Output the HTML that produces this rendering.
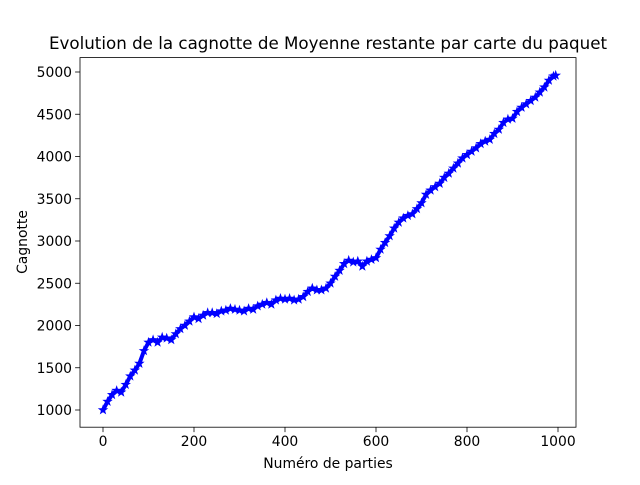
<!DOCTYPE html>
<html><head><meta charset="utf-8"><style>
body{margin:0;background:#fff;}
svg text{font-family:"DejaVu Sans","Liberation Sans",sans-serif;fill:#000;}
</style></head><body>
<svg id="chart" width="640" height="480" xmlns="http://www.w3.org/2000/svg">
<rect width="640" height="480" fill="#fff"/>
<text x="328" y="49" font-size="16.7" text-anchor="middle">Evolution de la cagnotte de Moyenne restante par carte du paquet</text>
<text x="328" y="468" font-size="13.9" text-anchor="middle">Numéro de parties</text>
<text x="27" y="242" font-size="13.9" text-anchor="middle" transform="rotate(-90 27 242)">Cagnotte</text>
<g id="series"></g>
<g id="axes"></g>
</svg>
<script>
const games=[0,10,20,30,40,50,60,70,80,90,100,110,120,130,140,150,160,170,180,190,200,210,220,230,240,250,260,270,280,290,300,310,320,330,340,350,360,370,380,390,400,410,420,430,440,450,460,470,480,490,500,510,520,530,540,550,560,570,580,590,600,610,620,630,640,650,660,670,680,690,700,710,720,730,740,750,760,770,780,790,800,810,820,830,840,850,860,870,880,890,900,910,920,930,940,950,960,970,980,990,995];
const cagnotte=[1000,1100,1180,1230,1210,1300,1400,1470,1550,1700,1800,1830,1800,1860,1850,1830,1900,1960,2000,2050,2100,2080,2120,2150,2150,2140,2170,2180,2200,2190,2180,2170,2200,2190,2230,2250,2270,2250,2300,2320,2310,2320,2300,2310,2340,2400,2440,2420,2420,2440,2500,2580,2650,2730,2770,2750,2760,2700,2760,2780,2800,2900,2980,3060,3150,3220,3270,3300,3320,3380,3450,3550,3600,3640,3680,3750,3800,3860,3920,3980,4020,4060,4100,4150,4180,4200,4270,4320,4400,4440,4450,4530,4580,4620,4660,4700,4760,4820,4900,4950,4960];
const xTicks=[0,200,400,600,800,1000];
const yTicks=[1000,1500,2000,2500,3000,3500,4000,4500,5000];
const NS="http://www.w3.org/2000/svg";
const L=80,R=576,T=57.6,B=427.2;
const xs=v=>103+v*0.455;
const ys=v=>410-(v-1000)*0.0845;
const ser=document.getElementById('series'),ax=document.getElementById('axes');
function mk(t,a,p){const e=document.createElementNS(NS,t);for(const k in a)e.setAttribute(k,a[k]);p.appendChild(e);return e;}
const line=mk('polyline',{points:games.map((g,i)=>xs(g)+','+ys(cagnotte[i])).join(' '),fill:'none',stroke:'#0000ff','stroke-width':4,'stroke-linejoin':'round'},ser);


games.forEach((g,i)=>{
  const cx=xs(g),cy=ys(cagnotte[i]);let pts=[];
  for(let k=0;k<10;k++){const r=k%2?2.2:5.5,a=-Math.PI/2+k*Math.PI/5;pts.push((cx+r*Math.cos(a)).toFixed(1)+','+(cy+r*Math.sin(a)).toFixed(1));}
  const s=mk('polygon',{points:pts.join(' '),fill:'#0000ff'},ser);
  
  
});
const frame=mk('rect',{x:L,y:T,width:R-L,height:B-T,fill:'none',stroke:'#000','stroke-width':0.8},ax);


xTicks.forEach(v=>{const x=xs(v);
  mk('line',{x1:x,x2:x,y1:B,y2:B+4.9,stroke:'#000','stroke-width':0.8},ax);
  const t=mk('text',{x:x,y:B+19,'font-size':13.9,'text-anchor':'middle'},ax);t.textContent=v;
  
  
});
yTicks.forEach(v=>{const y=ys(v);
  mk('line',{x1:L-4.9,x2:L,y1:y,y2:y,stroke:'#000','stroke-width':0.8},ax);
  const t=mk('text',{x:L-8,y:y+5,'font-size':13.9,'text-anchor':'end'},ax);t.textContent=v;
  
  
});
</script>
</body></html>
